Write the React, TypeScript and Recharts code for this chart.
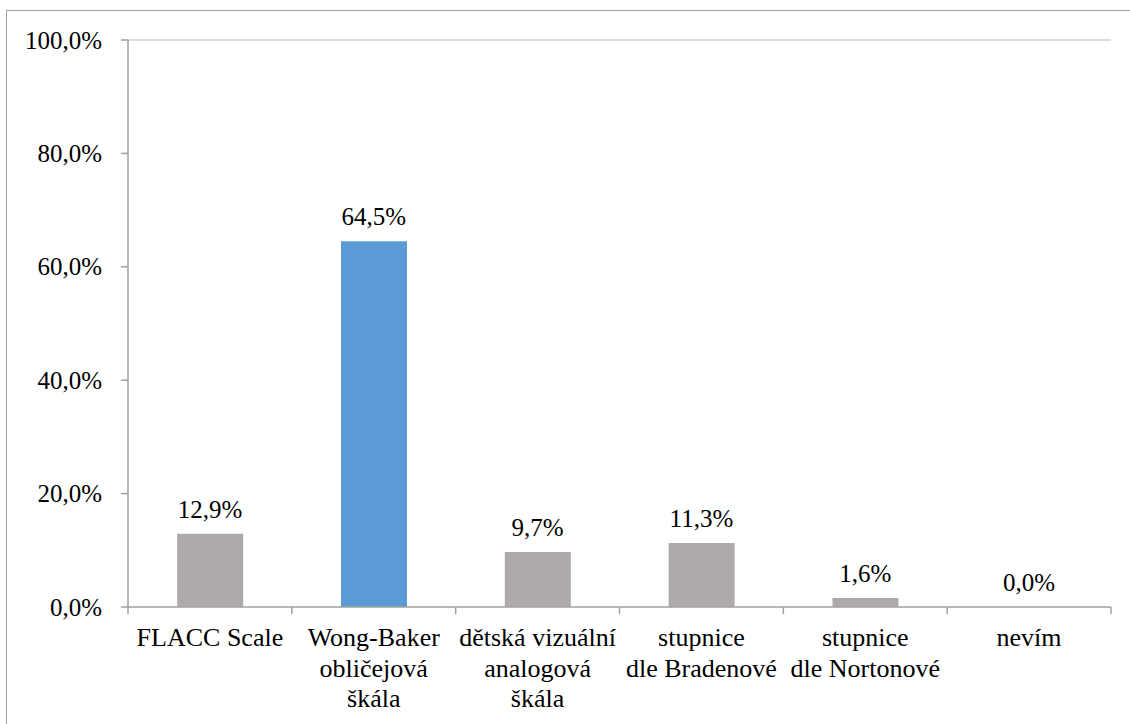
import React from "react";
import { ComposedChart, Bar, Line, XAxis, YAxis, Cell, LabelList, ReferenceLine } from "recharts";

const categories = ["FLACC Scale", "Wong-Baker obličejová škála", "dětská vizuální analogová škála", "stupnice dle Bradenové", "stupnice dle Nortonové", "nevím"];
const categoryLines: string[][] = [
  ["FLACC Scale"],
  ["Wong-Baker", "obličejová", "škála"],
  ["dětská vizuální", "analogová", "škála"],
  ["stupnice", "dle Bradenové"],
  ["stupnice", "dle Nortonové"],
  ["nevím"],
];
const values = [12.9, 64.5, 9.7, 11.3, 1.6, 0.0];
const barColors = ["#ADAAA9", "#5B9BD5", "#ADAAA9", "#ADAAA9", "#ADAAA9", "#ADAAA9"];
const yTicks = [0, 20, 40, 60, 80, 100];

const data = categories.map((c, i) => ({ name: c, value: values[i] }));

const FONT = '"Liberation Serif", "Times New Roman", serif';
const FS = 25;
const FS_CAT = 26;
const fmt = (v: number) => v.toFixed(1).replace(".", ",") + "%";

const CategoryTick = (props: any) => {
  const { x, y, payload, index, width } = props;
  const half = payload && typeof payload.offset === "number" && payload.offset > 0 ? payload.offset : width / categories.length / 2;
  const lines = categoryLines[index] || [String(payload.value)];
  return (
    <g>
      <line x1={x - half} x2={x - half} y1={y} y2={y + 7} stroke="#A0A0A0" strokeWidth={1.5} />
      {index === categories.length - 1 && (
        <line x1={x + half} x2={x + half} y1={y} y2={y + 7} stroke="#A0A0A0" strokeWidth={1.5} />
      )}
      <text x={x} y={y + 39} textAnchor="middle" fontFamily={FONT} fontSize={FS_CAT} fill="#000">
        {lines.map((l, i) => (
          <tspan key={i} x={x} dy={i === 0 ? 0 : 30.5}>
            {l}
          </tspan>
        ))}
      </text>
    </g>
  );
};

const YTick = (props: any) => {
  const { x, y, payload } = props;
  return (
    <text x={x} y={y} dy={8.5} textAnchor="end" fontFamily={FONT} fontSize={FS} fill="#000">
      {fmt(Number(payload.value))}
    </text>
  );
};

const ValueLabel = (props: any) => {
  const { x, y, value } = props;
  return (
    <text x={x} y={y - 16} textAnchor="middle" fontFamily={FONT} fontSize={FS} fill="#000">
      {fmt(Number(value))}
    </text>
  );
};

export default function App() {
  return (
    <div style={{ position: "relative", width: 1130, height: 724, overflow: "hidden", background: "#fff" }}>
      <style>{`body{margin:0;overflow:hidden;background:#fff}`}</style>
      <div
        style={{
          position: "absolute",
          left: 6,
          top: 10,
          width: 1300,
          height: 900,
          border: "1.5px solid #A0A0A0",
          boxSizing: "border-box",
        }}
      />
      <div style={{ position: "absolute", left: 0, top: 0 }}>
        <ComposedChart
          width={1130}
          height={724}
          data={data}
          margin={{ top: 40, right: 19, bottom: 0, left: 0 }}
          barCategoryGap="30%"
        >
          <ReferenceLine yAxisId="l" y={100} stroke="#D0D0D0" strokeWidth={1.5} />
          <XAxis
            dataKey="name"
            height={117}
            interval={0}
            tickLine={false}
            tickSize={0}
            tickMargin={0}
            axisLine={{ stroke: "#A0A0A0", strokeWidth: 1.5 }}
            tick={<CategoryTick />}
          />
          <YAxis
            yAxisId="l"
            width={128}
            domain={[0, 100]}
            ticks={yTicks}
            interval={0}
            tickSize={7}
            tickMargin={19}
            axisLine={{ stroke: "#A0A0A0", strokeWidth: 1.5 }}
            tickLine={{ stroke: "#A0A0A0", strokeWidth: 1.5 }}
            tick={<YTick />}
          />
          <YAxis
            yAxisId="r"
            orientation="right"
            width={0}
            domain={[0, 100]}
            tick={false}
            tickLine={false}
            axisLine={{ stroke: "#D0D0D0", strokeWidth: 1.5 }}
          />
          <Bar yAxisId="l" dataKey="value" isAnimationActive={false}>
            {data.map((d, i) => (
              <Cell key={d.name} fill={barColors[i]} />
            ))}
          </Bar>
          <Line
            yAxisId="l"
            dataKey="value"
            stroke="none"
            dot={false}
            activeDot={false}
            isAnimationActive={false}
          >
            <LabelList dataKey="value" content={<ValueLabel />} />
          </Line>
        </ComposedChart>
      </div>
    </div>
  );
}
